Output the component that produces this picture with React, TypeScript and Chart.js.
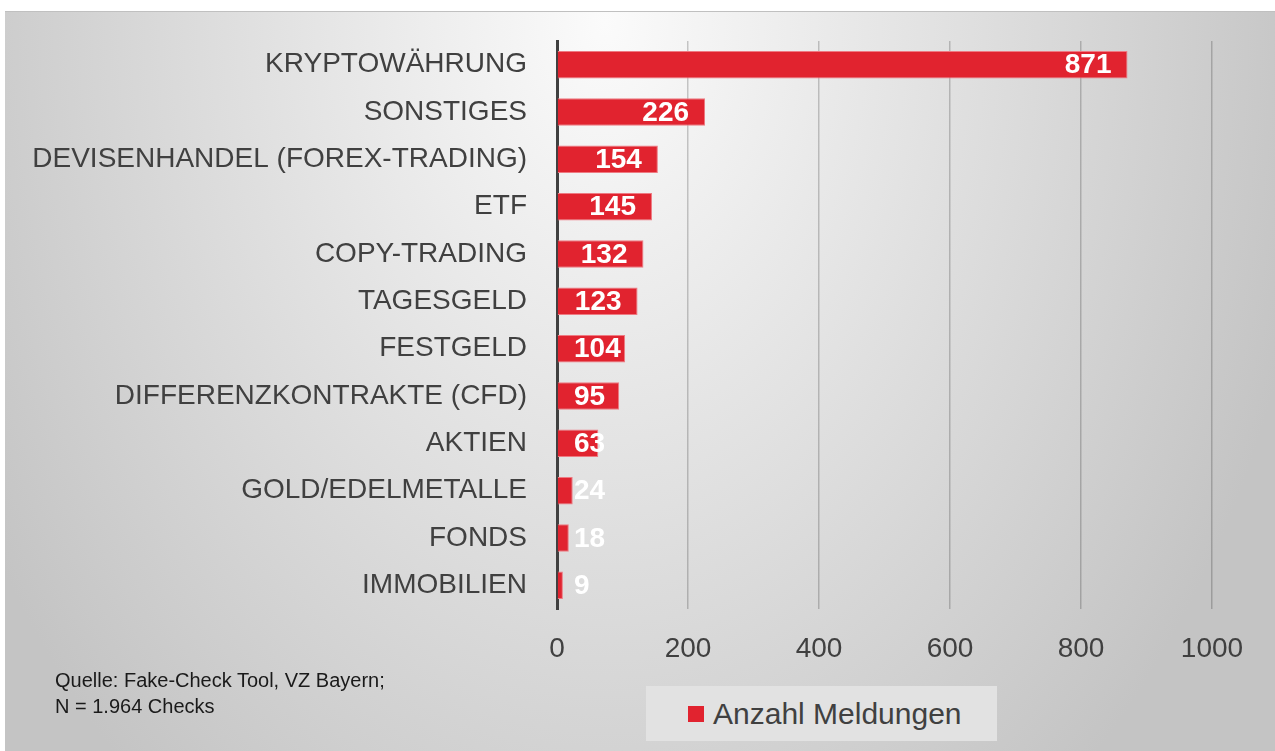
import React, { useEffect, useRef } from "react";
import { Chart, registerables } from "chart.js";

Chart.register(...registerables);

const categories = [
  "KRYPTOWÄHRUNG",
  "SONSTIGES",
  "DEVISENHANDEL (FOREX-TRADING)",
  "ETF",
  "COPY-TRADING",
  "TAGESGELD",
  "FESTGELD",
  "DIFFERENZKONTRAKTE (CFD)",
  "AKTIEN",
  "GOLD/EDELMETALLE",
  "FONDS",
  "IMMOBILIEN",
];
const values = [871, 226, 154, 145, 132, 123, 104, 95, 63, 24, 18, 9];
const xTickValues = [0, 200, 400, 600, 800, 1000];
const seriesName = "Anzahl Meldungen";
const sourceLines = ["Quelle: Fake-Check Tool, VZ Bayern;", "N = 1.964 Checks"];

const FONT = '"Liberation Sans", Arial, sans-serif';
const RED = "#E1232F";
const TEXT = "#404040";

const W = 1270;
const H = 740;

const valueLabels = {
  id: "valueLabels",
  afterDatasetsDraw(chart: any) {
    const ctx = chart.ctx;
    const meta = chart.getDatasetMeta(0);
    const base = chart.scales.x.getPixelForValue(0);
    ctx.save();
    ctx.font = `bold 28px ${FONT}`;
    ctx.fillStyle = "#ffffff";
    ctx.textBaseline = "middle";
    ctx.textAlign = "left";
    meta.data.forEach((el: any, i: number) => {
      const txt = String(values[i]);
      const w = ctx.measureText(txt).width;
      let left = el.x - 16 - w;
      if (left < base + 17) left = base + 17;
      ctx.fillText(txt, left, el.y + 1);
    });
    ctx.restore();
  },
};

export default function App() {
  const ref = useRef<HTMLCanvasElement | null>(null);

  useEffect(() => {
    if (!ref.current) return;
    const chart = new Chart(ref.current, {
      type: "bar",
      data: {
        labels: categories,
        datasets: [
          {
            label: seriesName,
            data: values,
            backgroundColor: RED,
            borderColor: "#ee7a82",
            borderWidth: 1,
            barPercentage: 0.58,
            categoryPercentage: 1,
          },
        ],
      },
      options: {
        indexAxis: "y",
        animation: false,
        responsive: false,
        maintainAspectRatio: false,
        layout: { padding: { top: 30, right: 63, bottom: 0, left: 0 } },
        plugins: {
          legend: { display: false },
          tooltip: { enabled: false },
        },
        scales: {
          x: {
            type: "linear",
            min: 0,
            max: 1000,
            afterFit: (s: any) => {
              s.height = H - 598;
              s.paddingLeft = 0;
              s.paddingRight = 0;
            },
            afterBuildTicks: (s: any) => {
              s.ticks = xTickValues.map((v) => ({ value: v }));
            },
            grid: {
              color: "rgba(0,0,0,0.2)",
              lineWidth: 1.5,
              drawTicks: false,
            },
            border: { display: false },
            ticks: {
              color: TEXT,
              font: { family: FONT, size: 28 },
              padding: 23,
              callback: (v: any) => String(v),
            },
          },
          y: {
            type: "category",
            z: 1,
            afterFit: (s: any) => {
              s.width = 552;
              s.paddingTop = 0;
              s.paddingBottom = 0;
            },
            grid: { display: false, drawTicks: false },
            border: { display: true, color: "#404040", width: 3 },
            ticks: {
              color: TEXT,
              font: { family: FONT, size: 28 },
              padding: 30,
            },
          },
        },
      },
      plugins: [valueLabels],
    });
    return () => chart.destroy();
  }, []);

  return (
    <div
      style={{
        position: "fixed",
        left: 0,
        top: 0,
        width: 1275,
        height: 751,
        background: "#ffffff",
        overflow: "hidden",
      }}
    >
      <div
        style={{
          position: "absolute",
          left: 5,
          top: 11,
          width: W,
          height: H,
          background:
            "radial-gradient(ellipse 720px 1000px at 600px 10px, #fbfbfb 0%, #c4c4c4 100%)",
          borderTop: "1px solid #c0c0c0",
          boxSizing: "border-box",
        }}
      >
        <canvas
          ref={ref}
          width={W}
          height={H}
          style={{ position: "absolute", left: 0, top: -1, width: W, height: H }}
        />
      </div>
      <div
        style={{
          position: "absolute",
          left: 55,
          top: 667,
          fontFamily: FONT,
          fontSize: 20,
          lineHeight: "26px",
          color: "#1a1a1a",
          whiteSpace: "nowrap",
        }}
      >
        {sourceLines.map((l) => (
          <div key={l}>{l}</div>
        ))}
      </div>
      <div
        style={{
          position: "absolute",
          left: 646,
          top: 686,
          width: 351,
          height: 55,
          background: "#e2e2e2",
          display: "flex",
          alignItems: "center",
          fontFamily: FONT,
          fontSize: 30,
          color: TEXT,
          whiteSpace: "nowrap",
        }}
      >
        <span
          style={{
            display: "inline-block",
            width: 16,
            height: 16,
            marginLeft: 42,
            marginRight: 9,
            background: RED,
          }}
        />
        <span>{seriesName}</span>
      </div>
    </div>
  );
}
